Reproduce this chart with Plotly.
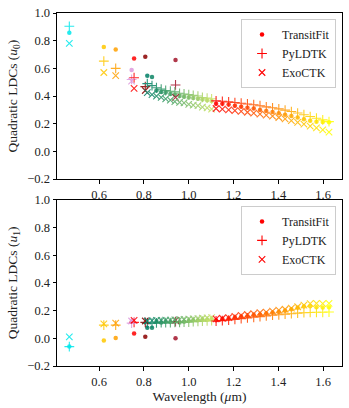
import plotly.graph_objects as go
from plotly.subplots import make_subplots

# single-band observations
band_wl = [0.467, 0.621, 0.674, 0.745, 0.756, 0.806, 0.941]
band_colors = ['#00e8ec', '#ffc800', '#ffa000', '#dd99dd', '#ff0000', '#8b0000', '#a3152b']
band_u0_tf = [0.858, 0.755, 0.736, 0.588, 0.671, 0.683, 0.660]
band_u0_py = [0.904, 0.652, 0.600, 0.520, 0.532, 0.468, 0.480]
band_u0_exo = [0.780, 0.570, 0.547, 0.508, 0.455, 0.440, 0.390]
band_u1_tf = [-0.060, -0.015, 0.002, 0.120, 0.034, 0.012, 0.000]
band_u1_py = [-0.060, 0.095, 0.095, 0.110, 0.115, 0.115, 0.120]
band_u1_exo = [0.010, 0.105, 0.110, 0.125, 0.130, 0.125, 0.130]

# first spectroscopic series
g_wl = [0.815, 0.836, 0.856, 0.877, 0.897, 0.918, 0.938, 0.959,
        0.979, 1.000, 1.020, 1.041, 1.061, 1.082, 1.102]
g_u0_tf = [0.547, 0.537, 0.440, 0.430, 0.425, 0.415, 0.410, 0.400,
           0.395, 0.390, 0.385, 0.380, 0.375, 0.370, 0.365]
g_u0_py = [0.490, 0.475, 0.460, 0.450, 0.440, 0.435, 0.430, 0.420,
           0.415, 0.410, 0.405, 0.400, 0.390, 0.385, 0.380]
g_u0_exo = [0.425, 0.410, 0.400, 0.390, 0.380, 0.370, 0.360, 0.355,
            0.350, 0.340, 0.335, 0.330, 0.320, 0.315, 0.305]
g_u1_tf = [0.077, 0.077, 0.120, 0.115, 0.120, 0.118, 0.120, 0.115,
           0.120, 0.125, 0.130, 0.130, 0.135, 0.135, 0.140]
g_u1_py = [0.110, 0.110, 0.112, 0.113, 0.113, 0.114, 0.115, 0.116,
           0.117, 0.118, 0.120, 0.122, 0.124, 0.126, 0.128]
g_u1_exo = [0.125, 0.128, 0.130, 0.130, 0.132, 0.132, 0.134, 0.135,
            0.136, 0.138, 0.140, 0.142, 0.145, 0.147, 0.150]

# second spectroscopic series
r_wl = [1.122, 1.150, 1.178, 1.206, 1.234, 1.262, 1.290, 1.318, 1.346, 1.374,
        1.402, 1.430, 1.458, 1.486, 1.514, 1.542, 1.570, 1.598, 1.626]
r_u0_tf = [0.345, 0.345, 0.338, 0.330, 0.322, 0.315, 0.310, 0.300, 0.292, 0.285,
           0.275, 0.265, 0.255, 0.245, 0.232, 0.222, 0.215, 0.212, 0.210]
r_u0_py = [0.365, 0.362, 0.358, 0.353, 0.348, 0.343, 0.337, 0.330, 0.322, 0.315,
           0.307, 0.298, 0.288, 0.277, 0.265, 0.252, 0.240, 0.228, 0.215]
r_u0_exo = [0.310, 0.305, 0.300, 0.295, 0.290, 0.283, 0.277, 0.270, 0.262, 0.255,
            0.245, 0.235, 0.222, 0.210, 0.197, 0.183, 0.170, 0.155, 0.140]
r_u1_tf = [0.130, 0.140, 0.142, 0.150, 0.155, 0.160, 0.168, 0.172, 0.180, 0.185,
           0.190, 0.200, 0.210, 0.220, 0.230, 0.232, 0.225, 0.222, 0.225]
r_u1_py = [0.125, 0.128, 0.132, 0.137, 0.142, 0.147, 0.152, 0.157, 0.162, 0.167,
           0.170, 0.175, 0.178, 0.182, 0.185, 0.187, 0.188, 0.188, 0.190]
r_u1_exo = [0.140, 0.145, 0.150, 0.158, 0.165, 0.172, 0.178, 0.185, 0.190, 0.197,
            0.203, 0.210, 0.218, 0.228, 0.240, 0.250, 0.252, 0.250, 0.252]

methods = ['TransitFit', 'PyLDTK', 'ExoCTK']


# colours along each series (summer-like and autumn colormaps)
def summer(t):
    return 'rgb(%d,%d,%d)' % (255 * t, 255 * (0.5 + 0.5 * t), 102)


def autumn(t):
    return 'rgb(255,%d,0)' % (255 * t)


ng, nr = len(g_wl), len(r_wl)
g_cols = [summer(0.78 * i / (ng - 1)) for i in range(ng)]
r_cols = [autumn(i / (nr - 1)) for i in range(nr)]

all_wl = band_wl + g_wl + r_wl
all_cols = band_colors + g_cols + r_cols

panels = [
    [band_u0_tf + g_u0_tf + r_u0_tf, band_u0_py + g_u0_py + r_u0_py, band_u0_exo + g_u0_exo + r_u0_exo],
    [band_u1_tf + g_u1_tf + r_u1_tf, band_u1_py + g_u1_py + r_u1_py, band_u1_exo + g_u1_exo + r_u1_exo],
]


def marker_for(m, col):
    if m == 'TransitFit':
        return dict(symbol='circle', size=4.5, color=col, line=dict(width=0))
    if m == 'PyLDTK':
        return dict(symbol='cross-thin', size=7, color=col, line=dict(width=1.1, color=col))
    return dict(symbol='x-thin', size=6.5, color=col, line=dict(width=1.1, color=col))


fig = make_subplots(rows=2, cols=1, vertical_spacing=0.059)

for row, vals in enumerate(panels, start=1):
    leg = 'legend' if row == 1 else 'legend2'
    for m, y in zip(methods, vals):
        fig.add_trace(go.Scatter(x=all_wl, y=y, mode='markers', opacity=0.85,
                                 marker=marker_for(m, all_cols), showlegend=False),
                      row=row, col=1)
    for m in methods:
        fig.add_trace(go.Scatter(x=[None], y=[None], mode='markers', name=m,
                                 marker=marker_for(m, 'red'), legend=leg),
                      row=row, col=1)

font = 'Liberation Serif'
axis_style = dict(showline=True, mirror=True, linecolor='black', linewidth=1,
                  ticks='outside', ticklen=3.5, tickwidth=0.8, tickcolor='black',
                  showgrid=False, zeroline=False, tickfont=dict(size=12.5, color='#222'))

fig.update_xaxes(range=[0.412, 1.684], dtick=0.2, tickformat='.1f', **axis_style)
fig.update_yaxes(range=[-0.2, 1.0], dtick=0.2, tickformat='.1f', **axis_style)
fig.update_xaxes(title=dict(text='Wavelength (<i>μ</i>m)', font=dict(size=13.5, color='#222'), standoff=4), row=2, col=1)
fig.update_yaxes(title=dict(text='Quadratic LDCs (<i>u</i><sub>0</sub>)', font=dict(size=13.5, color='#222'), standoff=6), row=1, col=1)
fig.update_yaxes(title=dict(text='Quadratic LDCs (<i>u</i><sub>1</sub>)', font=dict(size=13.5, color='#222'), standoff=6), row=2, col=1)

leg_style = dict(xanchor='right', yanchor='top', bgcolor='rgba(255,255,255,0.8)',
                 bordercolor='#cccccc', borderwidth=1, font=dict(size=12, color='#222'),
                 itemwidth=30, tracegroupgap=0)
fig.update_layout(
    width=349, height=408,
    margin=dict(l=57, r=6, t=11, b=42),
    paper_bgcolor='white', plot_bgcolor='white',
    font=dict(family=font, color='#222'),
    legend=dict(x=0.979, y=0.983, **leg_style),
    legend2=dict(x=0.979, y=0.4535, **leg_style),
)

fig.write_html("out.html", config={'displayModeBar': False},
               post_script="document.body.style.margin='0';")
